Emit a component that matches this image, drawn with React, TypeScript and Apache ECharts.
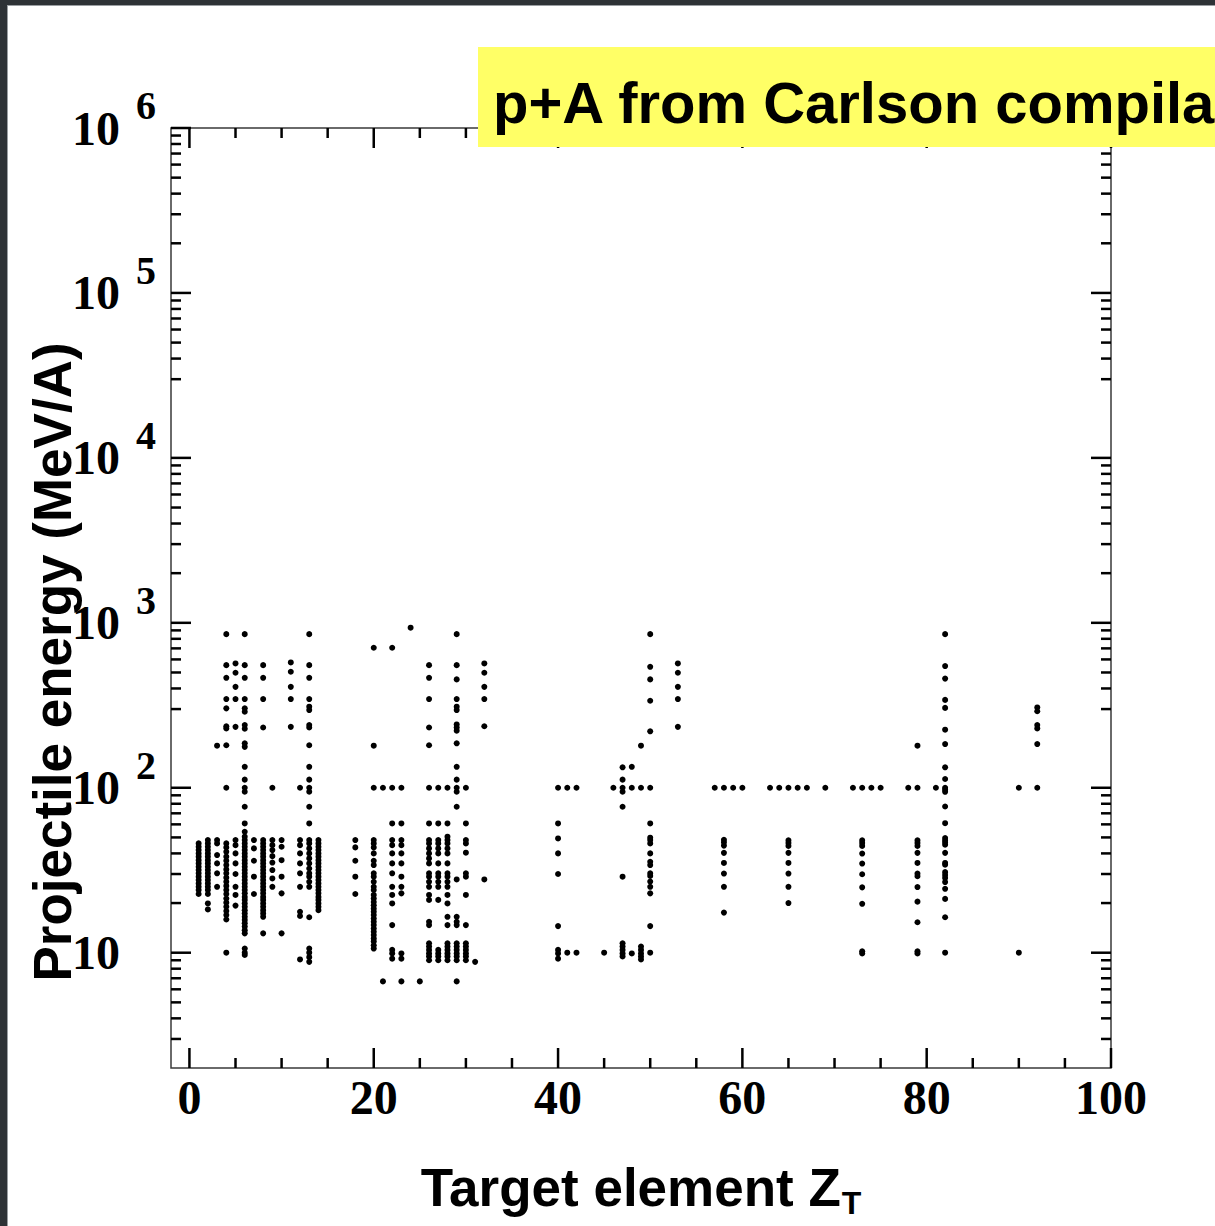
import React, { useEffect, useRef } from "react";
import * as echarts from "echarts";

// Target elements (Z_T) that have measured p+A data
const targetZ = [
  1, 2, 3, 4, 5, 6, 7, 8, 9, 10, 11, 12, 13, 14, 18, 20, 21, 22, 23, 24, 25, 26, 27, 28, 29, 30,
  31, 32, 40, 41, 42, 45, 46, 47, 48, 49, 50, 53, 57, 58, 59, 60, 63, 64, 65, 66, 67, 69, 72, 73,
  74, 75, 78, 79, 81, 82, 90, 92,
];

// Projectile energies (MeV/A) measured for each target above, same order
const energyByZ: number[][] = [
  [46, 43.9, 41.9, 40, 38.2, 36.4, 34.8, 33.2, 31.7, 30.3, 28.9, 27.6, 26.3, 25.1, 24, 22.7],
  [48.2, 46, 43.9, 41.9, 40, 38.2, 36.4, 34.8, 33.2, 31.7, 30.3, 28.9, 27.6, 26.3, 25.1, 24, 22.7, 19.9, 18.3],
  [180, 48.2, 46, 39.1, 34.8, 30.3, 25.1],
  [854, 554, 464, 345, 303, 236, 229, 181, 100, 46, 43.5, 40.9, 38.2, 36.1, 34, 32, 30.3, 28.5, 26.9, 25.4, 24, 22.7, 21.3, 20.1, 19, 17.9, 16.9, 15.9, 10],
  [567, 498, 409, 345, 234, 48.2, 44.9, 40, 34.8, 30, 25.1, 22.4, 19.3],
  [854, 554, 464, 345, 303, 289, 240, 228, 186, 177, 134, 112, 100, 94.6, 76.7, 60.8, 54.1, 50.5, 48.2, 46, 43.9, 41.9, 40, 38.2, 36.4, 34.8, 33.2, 31.7, 30.3, 28.9, 27.6, 26.3, 25.1, 24, 22.9, 21.8, 20.9, 19.9, 19, 18.1, 17.3, 16.5, 15.8, 15.1, 14.4, 13.7, 13.1, 10.6, 10, 9.7],
  [48.2, 42.9, 36.1, 28.9, 22.7],
  [554, 464, 345, 232, 48.2, 46, 43.9, 41.9, 40, 38.2, 36.4, 34.8, 33.2, 31.7, 30.3, 28.9, 27.6, 26.3, 25.1, 24, 22.9, 21.8, 20.9, 19.9, 19, 18.1, 17.3, 16.5, 13.1],
  [100, 48.2, 44.9, 41.9, 38.5, 35.2, 31.7, 28.2, 25.1],
  [48.2, 43.9, 36.4, 28.9, 22.9, 13.1],
  [575, 505, 409, 345, 234],
  [100, 48.2, 44.9, 40, 34.8, 30.3, 25.1, 17.7, 16.7, 9.1],
  [854, 554, 464, 345, 310, 296, 240, 232, 181, 134, 112, 100, 94.6, 76.7, 60.8, 48.2, 46, 42.9, 40, 37.3, 34.8, 32.4, 30.3, 28.9, 26.9, 25.1, 16.4, 10.6, 10, 9.4, 8.8],
  [48.2, 46, 43.9, 41.9, 40, 38.2, 36.4, 34.8, 33.2, 31.7, 30.3, 28.9, 27.6, 26.3, 25.1, 24, 22.9, 21.8, 20.9, 19.9, 19, 18.1],
  [48.2, 43.5, 36.1, 28.9, 22.7],
  [706, 180, 100, 48.2, 46, 43.5, 40, 36.1, 34, 30.3, 28.9, 26.9, 25.1, 24, 22.4, 21.3, 20.3, 19.4, 18.5, 17.7, 16.9, 16.1, 15.4, 14.7, 14, 13.4, 12.8, 12.2, 11.7, 11.1, 10.6],
  [100, 6.7],
  [706, 100, 60.8, 48.2, 44.9, 40, 34.8, 30.3, 25.1, 22.4, 19.9, 14.7, 10.4, 9.9, 9.2],
  [100, 60.8, 48.2, 44.9, 40, 34.8, 28.9, 25.1, 22.9, 9.9, 9.2, 6.7],
  [934],
  [6.7],
  [554, 464, 345, 232, 181, 100, 60.8, 48.2, 46, 42.9, 40, 37.3, 34.8, 30.3, 28.9, 26.9, 25.1, 22.4, 20.9, 15.4, 14.7, 11.4, 10.9, 10.4, 9.9, 9.5, 9],
  [100, 60.8, 48.2, 46, 42.9, 40, 34.8, 30.3, 28.9, 26.9, 25.1, 20.9, 10.4, 9.9, 9.5, 9],
  [100, 60.8, 50.5, 48.2, 46, 42.9, 40, 34.8, 30.3, 28.9, 26.9, 25.1, 22.4, 19.9, 16.5, 14.7, 11.4, 10.9, 10.4, 9.9, 9.5, 9],
  [854, 554, 454, 345, 310, 296, 242, 232, 222, 186, 134, 112, 100, 94.6, 76.7, 27.8, 16.5, 15.4, 14.7, 11.4, 10.9, 10.4, 9.9, 9.5, 9, 6.7],
  [100, 60.8, 48.2, 46, 40.4, 30.3, 28.9, 22.4, 14.7, 11.4, 10.9, 10.4, 9.9, 9.5, 9],
  [8.8],
  [567, 498, 409, 345, 236, 27.8],
  [100, 60.8, 49.3, 40, 30, 14.5, 10.4, 9.9, 9.2],
  [100, 10],
  [100, 10],
  [10],
  [100],
  [133, 112, 100, 94.6, 76.7, 28.9, 11.4, 10.9, 10.4, 9.9, 9.5],
  [134, 100, 9.9],
  [180, 100, 10.9, 10.4, 9.9, 9.5, 9.1],
  [854, 541, 454, 337, 220, 100, 60.8, 49.8, 48.2, 46, 40, 35.6, 34, 30.3, 29.2, 27, 25.1, 22.9, 14.5, 10],
  [567, 498, 409, 345, 234],
  [100],
  [100, 48.4, 46.7, 44.6, 40.3, 35, 30.2, 25.1, 17.5],
  [100],
  [100],
  [100],
  [100],
  [100, 48, 46.3, 44.4, 40.3, 35, 30.2, 25.1, 20],
  [100],
  [100],
  [100],
  [100],
  [100, 48, 46.3, 44.4, 39.9, 34.7, 29.9, 24.9, 19.8, 10.2, 9.9],
  [100],
  [100],
  [100],
  [180, 100, 48, 46.3, 44.4, 40.3, 35, 30.2, 29.1, 25, 20.4, 15.3, 10.2, 9.9],
  [100],
  [854, 547, 459, 341, 305, 225, 184, 133, 113, 100, 97.4, 94.5, 77, 61, 49.6, 48, 46.7, 45.2, 40.3, 35, 34.2, 30.8, 29.6, 28.4, 26.8, 24.4, 21.2, 16.4, 10],
  [100, 10],
  [307, 291, 240, 229, 184, 100],
];

// Axis ranges and tick values
const X_MIN = -2;
const X_MAX = 100;
const Y_MIN = 2;
const Y_MAX = 1e6;
const xMajorTicks = [0, 20, 40, 60, 80, 100];
const xMinorTicks = [5, 10, 15, 25, 30, 35, 45, 50, 55, 65, 70, 75, 85, 90, 95];
const yMajorTicks = [10, 100, 1000, 10000, 100000, 1000000];
const yMinorMantissas = [3, 4, 5, 6, 7, 8, 9, 20, 30, 40, 50, 60, 70, 80, 90];
const yMinorDecades = [1, 100, 10000];

const SERIF = '"Liberation Serif", "Times New Roman", serif';
const SANS = '"Liberation Sans", Arial, sans-serif';

function buildOption() {
  const points: number[][] = [];
  targetZ.forEach((z, i) => {
    energyByZ[i].forEach((e) => points.push([z, e]));
  });

  const xTickData = [
    ...xMajorTicks.map((v) => [v, 10, 1]),
    ...xMinorTicks.map((v) => [v, 10, 0]),
  ];
  const yMinorTicks: number[] = [];
  yMinorDecades.forEach((d) => yMinorMantissas.forEach((m) => yMinorTicks.push(m * d)));
  const yTickData = [
    ...yMajorTicks.map((v) => [0, v, 1]),
    ...yMinorTicks.map((v) => [0, v, 0]),
  ];

  const tickStyle = { stroke: "#000", lineWidth: 2.5 };

  return {
    animation: false,
    backgroundColor: "#ffffff",
    grid: {
      left: 171,
      top: 128,
      width: 940,
      height: 940,
      outerBoundsMode: "none",
      containLabel: false,
      show: true,
      borderColor: "#3a3a3a",
      borderWidth: 1.5,
      backgroundColor: "transparent",
    },
    xAxis: {
      type: "value",
      min: X_MIN,
      max: X_MAX,
      axisLine: { show: false },
      axisTick: { show: false },
      splitLine: { show: false },
      axisLabel: {
        margin: 5,
        color: "#000",
        fontFamily: SERIF,
        fontWeight: "bold",
        fontSize: 48,
        formatter: (v: number) => (v < 0 ? "" : String(Math.round(v))),
      },
      name: "{a|Target element Z}{sub|T}",
      nameLocation: "middle",
      nameGap: 93,
      nameTextStyle: {
        rich: {
          a: { fontFamily: SANS, fontWeight: "bold", fontSize: 53, color: "#000", verticalAlign: "middle" },
          sub: {
            fontFamily: SANS,
            fontWeight: "bold",
            fontSize: 32,
            lineHeight: 16,
            color: "#000",
            verticalAlign: "middle",
            padding: [30, 0, 0, 1],
          },
        },
      },
    },
    yAxis: {
      type: "log",
      logBase: 10,
      min: Y_MIN,
      max: Y_MAX,
      axisLine: { show: false },
      axisTick: { show: false },
      splitLine: { show: false },
      minorTick: { show: false },
      axisLabel: {
        margin: 99,
        align: "left",
        formatter: (v: number) => {
          const lg = Math.log10(v);
          const e = Math.round(lg);
          if (Math.abs(lg - e) > 1e-6) return "";
          return e === 1 ? "{b|10}" : `{b|10}{s|${e}}`;
        },
        rich: {
          b: { fontFamily: SERIF, fontWeight: "bold", fontSize: 48, color: "#000", verticalAlign: "middle" },
          s: {
            fontFamily: SERIF,
            fontWeight: "bold",
            fontSize: 40,
            color: "#000",
            verticalAlign: "middle",
            padding: [0, 0, 45, 16],
          },
        },
      },
    },
    graphic: [
      {
        type: "text",
        x: 52,
        y: 662,
        rotation: Math.PI / 2,
        style: {
          text: "Projectile energy (MeV/A)",
          fontFamily: SANS,
          fontWeight: "bold",
          fontSize: 53,
          fill: "#000",
          align: "center",
          verticalAlign: "middle",
        },
      },
      {
        type: "rect",
        z: 100,
        shape: { x: 478, y: 47, width: 760, height: 100 },
        style: { fill: "#ffff66" },
      },
      {
        type: "text",
        z: 101,
        x: 493,
        y: 102,
        style: {
          text: "p+A from Carlson compila",
          fontFamily: '"Comic Sans MS", "Liberation Sans", sans-serif',
          fontWeight: "bold",
          fontSize: 58,
          fill: "#000",
          align: "left",
          verticalAlign: "middle",
        },
      },
      {
        type: "rect",
        z: 110,
        shape: { x: 0, y: 0, width: 1215, height: 5 },
        style: { fill: "#2e3236" },
      },
      {
        type: "rect",
        z: 110,
        shape: { x: 0, y: 0, width: 7, height: 1226 },
        style: { fill: "#2e3236" },
      },
      {
        type: "line",
        z: 111,
        shape: { x1: 7, y1: 5.5, x2: 1215, y2: 5.5 },
        style: { stroke: "#9a9ea2", lineWidth: 1 },
      },
      {
        type: "line",
        z: 111,
        shape: { x1: 7.5, y1: 5, x2: 7.5, y2: 1226 },
        style: { stroke: "#9a9ea2", lineWidth: 1 },
      },
    ],
    series: [
      {
        type: "scatter",
        data: points,
        symbol: "circle",
        symbolSize: 6,
        itemStyle: { color: "#000", opacity: 1 },
        silent: true,
        z: 3,
      },
      {
        // bottom and top ticks, pointing inward
        type: "custom",
        data: xTickData,
        encode: { x: 0, y: 1 },
        silent: true,
        clip: false,
        z: 4,
        renderItem: (_params: any, api: any) => {
          const v = api.value(0);
          const len = api.value(2) ? 20 : 10;
          const b = api.coord([v, Y_MIN]);
          const t = api.coord([v, Y_MAX]);
          return {
            type: "group",
            children: [
              { type: "line", shape: { x1: b[0], y1: b[1], x2: b[0], y2: b[1] - len }, style: tickStyle },
              { type: "line", shape: { x1: t[0], y1: t[1], x2: t[0], y2: t[1] + len }, style: tickStyle },
            ],
          };
        },
      },
      {
        // left and right ticks, pointing inward
        type: "custom",
        data: yTickData,
        encode: { x: 0, y: 1 },
        silent: true,
        clip: false,
        z: 4,
        renderItem: (_params: any, api: any) => {
          const v = api.value(1);
          const len = api.value(2) ? 20 : 10;
          const l = api.coord([X_MIN, v]);
          const r = api.coord([X_MAX, v]);
          return {
            type: "group",
            children: [
              { type: "line", shape: { x1: l[0], y1: l[1], x2: l[0] + len, y2: l[1] }, style: tickStyle },
              { type: "line", shape: { x1: r[0], y1: r[1], x2: r[0] - len, y2: r[1] }, style: tickStyle },
            ],
          };
        },
      },
    ],
  };
}

export default function App() {
  const ref = useRef<HTMLDivElement>(null);
  useEffect(() => {
    const el = ref.current;
    if (!el) return;
    const chart = echarts.init(el, null, { renderer: "svg" });
    chart.setOption(buildOption() as any);
    return () => chart.dispose();
  }, []);
  return (
    <div
      ref={ref}
      style={{ position: "absolute", left: 0, top: 0, width: 1215, height: 1226, background: "#fff" }}
    />
  );
}
